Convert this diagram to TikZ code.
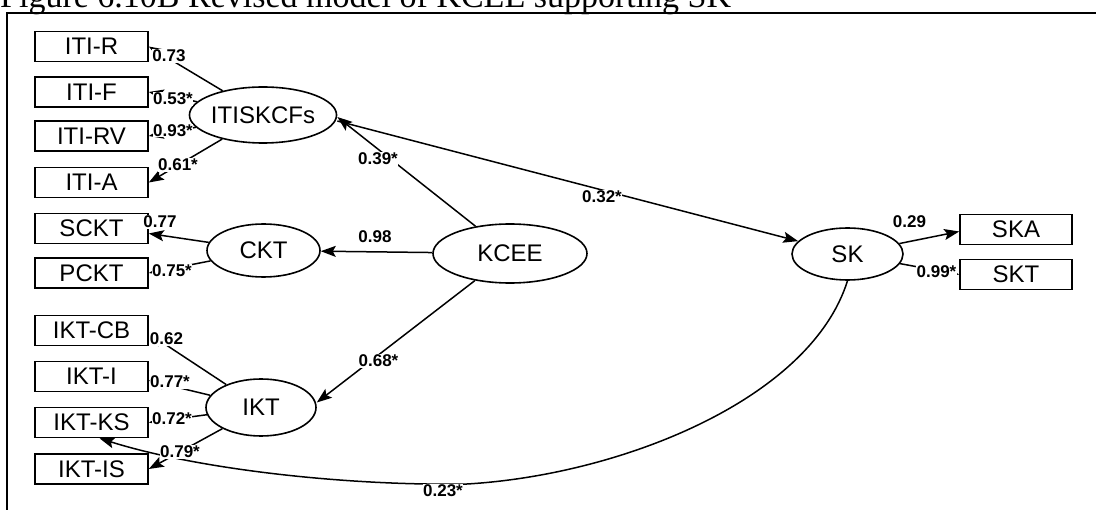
\documentclass[tikz,border=0pt]{standalone}
\usepackage{fontspec}
\setmainfont{Liberation Serif}
\newfontfamily\sansfam{Liberation Sans}
\usetikzlibrary{shapes.geometric,arrows.meta}
\newcommand\bxfont{\sansfam\fontsize{24}{24}\selectfont}
\newcommand\lbfont{\sansfam\bfseries\fontsize{17}{17}\selectfont}
\newcommand\ttlfont{\rmfamily\fontsize{34pt}{38pt}\selectfont}
\begin{document}
\begin{tikzpicture}[x=1pt,y=-1pt,
  box/.style={draw,line width=1.6pt,minimum width=113pt,minimum height=30pt,inner sep=0pt,font=\bxfont},
  lat/.style={draw,ellipse,line width=1.6pt,inner sep=0pt,font=\bxfont},
  lab/.style={fill=white,inner sep=0.5pt,font=\lbfont},
  conn/.style={line width=1.5pt},
  arr/.style={conn,-{Stealth[length=15pt,width=11pt,inset=3pt]}}]
\useasboundingbox (0,0) rectangle (1096,510);
% title and frame
\node[anchor=base west,font=\ttlfont,inner sep=0pt] (title) at (0,8) {Figure 6.10B Revised model of KCEE supporting SK};
\coordinate (fa) at (7,512);
\coordinate (fb) at (7,13);
\coordinate (fc) at (1098,13);
\draw[line width=2.5pt] (fa) -- (fb) -- (fc);
% observed variables
\node[box] (ITIR) at (91.5,46.5) {ITI-R};
\node[box] (ITIF) at (91.5,92) {ITI-F};
\node[box] (ITIRV) at (91.5,136) {ITI-RV};
\node[box] (ITIA) at (91.5,182.5) {ITI-A};
\node[box] (SCKT) at (91.5,228.5) {SCKT};
\node[box] (PCKT) at (91.5,273) {PCKT};
\node[box] (IKTCB) at (91.5,330.5) {IKT-CB};
\node[box] (IKTI) at (91.5,376.5) {IKT-I};
\node[box] (IKTKS) at (91.5,422.5) {IKT-KS};
\node[box] (IKTIS) at (91.5,469) {IKT-IS};
\node[box,minimum width=112pt] (SKA) at (1016,229.5) {SKA};
\node[box,minimum width=112pt] (SKT) at (1016,274.5) {SKT};
% latent variables
\node[lat,minimum width=112pt,minimum height=56pt] (ITIS) at (263,115) {ITISKCFs};
\node[lat,minimum width=113pt,minimum height=53pt] (CKT) at (263.5,250.5) {CKT};
\node[lat,minimum width=154pt,minimum height=59pt] (KCEE) at (510,253.5) {KCEE};
\node[lat,minimum width=110pt,minimum height=57pt] (IKT) at (261,407.5) {IKT};
\node[lat,minimum width=111pt,minimum height=52pt] (SK) at (847.5,254) {SK};
% connectors
\draw[arr] (ITIS) -- (ITIR.east);
\draw[arr] (ITIS) -- (ITIF.east);
\draw[arr] (ITIS) -- (ITIRV.east);
\draw[arr] (ITIS) -- (ITIA.east);
\draw[arr] (CKT) -- ([yshift=-5pt]SCKT.east);
\draw[arr] (CKT) -- (PCKT.east);
\draw[arr] (KCEE) -- (CKT);
\draw[arr] (KCEE) -- ([yshift=-2pt]ITIS.east);
\draw[arr] (KCEE) -- ([yshift=5pt]IKT.east);
\draw[arr] ([yshift=-6pt]ITIS.east) -- (SK);
\draw[arr] (IKT) -- ([yshift=-3pt]IKTCB.east);
\draw[arr] (IKT) -- ([yshift=-4pt]IKTI.east);
\draw[arr] (IKT) -- (IKTKS.east);
\draw[arr] (IKT) -- (IKTIS.east);
\draw[arr] (SK) -- ([yshift=-2pt]SKA.west);
\draw[arr] (SK) -- (SKT.west);
\draw[arr] (SK.south) .. controls (810,400) and (620,475) .. (467,484)
   .. controls (350,486) and (200,470) .. ([xshift=8pt]IKTKS.south);
% labels
\node[lab] (l1) at (169,56) {0.73};
\node[lab] (l2) at (173,99) {0.53*};
\node[lab] (l3) at (173,130.5) {0.93*};
\node[lab] (l4) at (178,165) {0.61*};
\node[lab] (l5) at (160,222) {0.77};
\node[lab] (l6) at (172,270.5) {0.75*};
\node[lab] (l7) at (375,236.5) {0.98};
\node[lab] (l8) at (378,159) {0.39*};
\node[lab] (l9) at (602,197) {0.32*};
\node[lab] (l10) at (378.5,361) {0.68*};
\node[lab] (l11) at (166.5,339) {0.62};
\node[lab] (l12) at (170,382) {0.77*};
\node[lab] (l13) at (172,419) {0.72*};
\node[lab] (l14) at (180,452) {0.79*};
\node[lab] (l15) at (443,491) {0.23*};
\node[lab] (l16) at (909.5,222) {0.29};
\node[lab] (l17) at (936.5,271.5) {0.99*};
\end{tikzpicture}
\end{document}
